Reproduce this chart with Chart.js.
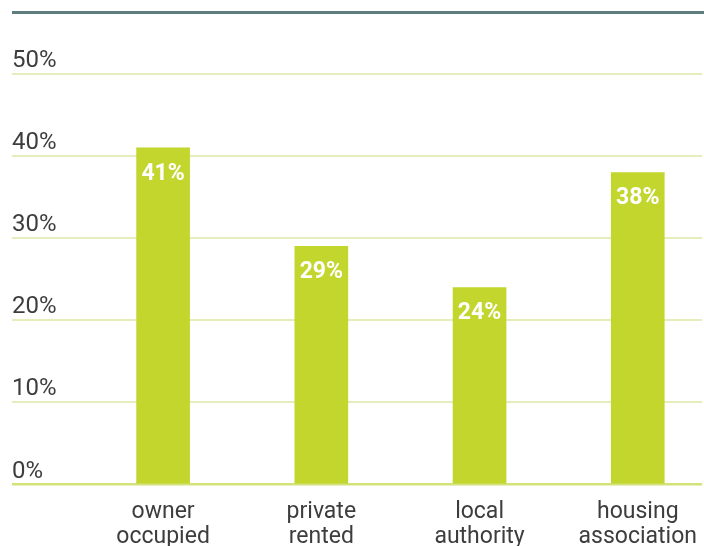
<!DOCTYPE html>
<html>
<head>
<meta charset="utf-8">
<script src="https://cdn.jsdelivr.net/npm/chart.js@4/dist/chart.umd.min.js"></script>
<style>
  html, body { margin: 0; padding: 0; background: #fff; }
  #wrap { position: relative; width: 704px; height: 546px; overflow: hidden; }
  #topRule { position: absolute; left: 12px; top: 11px; width: 692px; height: 3px; background: #5f7d7c; }
  #grafico { position: absolute; left: 0; top: 0; }
</style>
</head>
<body>
<div id="wrap">
  <div id="topRule"></div>
  <canvas id="grafico" width="704" height="546"></canvas>
</div>
<script>
// tenure types and share of households
const categorias = [['owner', 'occupied'], ['private', 'rented'], ['local', 'authority'], ['housing', 'association']];
const valores = [41, 29, 24, 38];
const ticksY = [0, 10, 20, 30, 40, 50];

const corBarra = '#c2d62e';
const corGrade = '#e4edbb';
const corZero = '#d3e27a';
const corTexto = '#3d3d3d';

// percentage labels written in white near the top of each bar
const rotulosBarras = {
    id: 'rotulosBarras',
    afterDatasetsDraw(chart) {
        const c = chart.ctx;
        const meta = chart.getDatasetMeta(0);
        c.save();
        c.fillStyle = '#ffffff';
        c.font = 'bold 23px Roboto';
        c.textAlign = 'center';
        c.textBaseline = 'middle';
        meta.data.forEach((bar, i) => {
            c.fillText(valores[i] + '%', bar.x, bar.y + 26);
        });
        c.restore();
    }
};

new Chart(document.getElementById('grafico'), {
    type: 'bar',
    data: {
        datasets: [{
            data: valores.map((v, i) => ({ x: i, y: v })),
            backgroundColor: corBarra,
            borderWidth: 0,
            barThickness: 53
        }]
    },
    options: {
        responsive: false,
        animation: false,
        layout: {
            padding: { left: 12, right: 0, top: 74, bottom: 0 }
        },
        plugins: {
            legend: { display: false },
            tooltip: { enabled: false }
        },
        scales: {
            x: {
                type: 'linear',
                offset: false,
                min: -0.955,
                max: 3.4065,
                grid: { display: false, offset: false },
                border: { display: false },
                ticks: {
                    stepSize: 1,
                    includeBounds: false,
                    autoSkip: false,
                    maxRotation: 0,
                    padding: 7,
                    color: corTexto,
                    font: { family: 'Roboto', size: 23, lineHeight: 1.09 },
                    callback: (v) => Number.isInteger(v) && categorias[v] ? categorias[v] : ''
                },
                afterFit(scale) { scale.height = 61.5; }
            },
            y: {
                min: 0,
                max: 50,
                afterBuildTicks(scale) { scale.ticks = ticksY.map(v => ({ value: v })); },
                grid: {
                    drawTicks: false,
                    color: (ctx) => ctx.tick && ctx.tick.value === 0 ? corZero : corGrade,
                    lineWidth: (ctx) => ctx.tick && ctx.tick.value === 0 ? 2.5 : 2
                },
                border: { display: false },
                ticks: {
                    mirror: true,
                    padding: 0,
                    labelOffset: -13,
                    color: corTexto,
                    font: { family: 'Roboto', size: 24 },
                    callback: (v) => v + '%'
                }
            }
        }
    },
    plugins: [rotulosBarras]
});
</script>
</body>
</html>
